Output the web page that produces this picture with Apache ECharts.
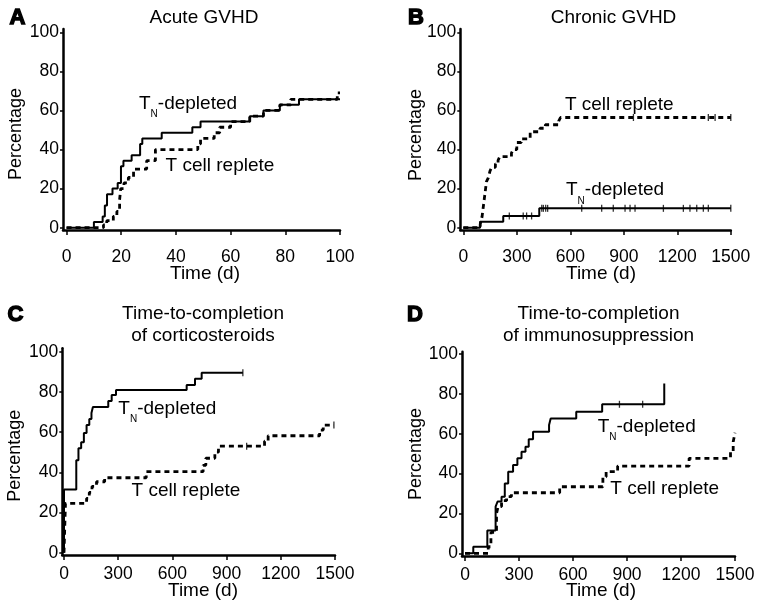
<!DOCTYPE html>
<html><head><meta charset="utf-8">
<script src="https://cdn.jsdelivr.net/npm/echarts@6/dist/echarts.min.js"></script>
<style>html,body{margin:0;padding:0;background:#fff}#c{width:762px;height:612px}</style>
</head><body><div id="c"></div>
<script>
const FONT = '"Liberation Sans", Arial, Helvetica, sans-serif';

// ---- Panel A: Acute GVHD (days 0-100) ----
const aDepT = [0, 10, 13.2, 14, 14.8, 16.8, 18.7, 19.9, 20.8, 23.8, 26.9, 27.7, 34.8, 46, 49, 67, 72, 78, 85, 100];
const aDepY = [0, 2.9, 5.7, 11.4, 17.1, 20, 22.9, 31.4, 34.3, 37.1, 42.9, 45.7, 48.6, 51.4, 54.3, 57.1, 60, 62.9, 65.7, 65.7];
const aRepT = [0, 13.5, 14.7, 17.1, 18.4, 19.4, 19.8, 21, 22.6, 24.5, 29.3, 32.5, 48, 49, 54, 56, 60, 67, 72, 78, 82, 99, 100];
const aRepY = [0, 1.4, 3.6, 5.8, 8.3, 14.3, 20, 22.9, 25.7, 30, 34.3, 40, 42.9, 45.7, 48.6, 51.4, 54.3, 57.1, 60, 62.9, 65.7, 69, 69];
const aDepCens = [];
const aRepCens = [];

// ---- Panel B: Chronic GVHD (days 0-1500) ----
const bDepT = [0, 94, 224, 426, 1500];
const bDepY = [0, 3.1, 6, 9.9, 9.9];
const bRepT = [0, 95, 100, 105, 110, 115, 120, 125, 130, 140, 150, 160, 180, 195, 205, 270, 280, 300, 325, 375, 430, 460, 535, 545, 1500];
const bRepY = [0, 1.8, 3.6, 5.5, 9.1, 12.7, 16.4, 20, 23.6, 25.5, 29.1, 30.9, 32.7, 34.5, 36.4, 38.2, 40, 43.6, 45.5, 49.1, 50.9, 52.7, 54.5, 56.4, 56.4];
const bDepCens = [258, 336, 355, 383, 440, 449, 462, 473, 664, 776, 841, 907, 935, 963, 1122, 1234, 1271, 1309, 1346, 1374, 1500];
const bRepCens = [954, 1374, 1412, 1500];

// ---- Panel C: completion of corticosteroids ----
const cDepT = [0, 0, 68, 80, 95, 110, 125, 140, 152, 160, 245, 264, 288, 679, 725, 762, 990];
const cDepY = [0, 31.5, 46, 52, 55, 59.5, 63.5, 66.5, 69.5, 72.5, 75.5, 78.5, 81, 83.5, 86.5, 89.5, 89.5];
const cRepT = [0, 8, 125, 140, 155, 180, 225, 455, 770, 785, 835, 855, 1110, 1130, 1415, 1435, 1494];
const cRepY = [0, 24.5, 27, 30, 33, 35.3, 37.3, 40.3, 43.5, 47, 50, 53, 55.5, 58.2, 61, 63.5, 63.5];
const cDepCens = [990];
const cRepCens = [1011, 1494];

// ---- Panel D: completion of immunosuppression ----
const dDepT = [0, 46, 124, 170, 181, 203, 221, 240, 267, 291, 314, 336, 354, 378, 467, 476, 618, 762, 1107, 1107];
const dDepY = [0, 3.3, 11.5, 23.4, 26, 28.4, 35, 41, 44.3, 47.7, 51, 53.5, 57.2, 61, 64.4, 67.7, 71, 74.8, 74.8, 85.3];
const dRepT = [0, 129, 144, 175, 184, 203, 231, 258, 526, 766, 784, 848, 1245, 1475, 1490, 1500];
const dRepY = [0, 3.3, 10.5, 20, 23.5, 26.4, 28.5, 30.4, 33.4, 38.4, 41, 43.8, 47.7, 51, 56, 60.5];
const dDepCens = [858, 987];
const dRepCens = [];

// ---- tick labels ----
const xTicksA = [0, 20, 40, 60, 80, 100];
const xTicksLong = [0, 300, 600, 900, 1200, 1500];
const yTicks = [0, 20, 40, 60, 80, 100];

const titles = [['Acute GVHD'], ['Chronic GVHD'], ['Time-to-completion', 'of corticosteroids'], ['Time-to-completion', 'of immunosuppression']];
const letters = ['A', 'B', 'C', 'D'];

const panels = [
  {dep: [aDepT, aDepY], rep: [aRepT, aRepY], depC: aDepCens, repC: aRepCens, xt: xTicksA, lm: 18,
   grid: {left: 63, top: 29, width: 277, height: 201}, x: [-1.3, 100], y: [-1.18, 101.7]},
  {dep: [bDepT, bDepY], rep: [bRepT, bRepY], depC: bDepCens, repC: bRepCens, xt: xTicksLong, lm: 18,
   grid: {left: 460.3, top: 29, width: 270.5, height: 201}, x: [-16.8, 1500], y: [-1.18, 101.7]},
  {dep: [cDepT, cDepY], rep: [cRepT, cRepY], depC: cDepCens, repC: cRepCens, xt: xTicksLong, lm: 10,
   grid: {left: 62.3, top: 348.3, width: 272.7, height: 206.7}, x: [-9.4, 1500], y: [-1.14, 101.7]},
  {dep: [dDepT, dDepY], rep: [dRepT, dRepY], depC: dDepCens, repC: dRepCens, xt: xTicksLong, lm: 10,
   grid: {left: 462, top: 351.7, width: 273, height: 204.3}, x: [-16.7, 1500], y: [-1.35, 101.2]}
];

function zip(t, y) { return t.map((v, i) => [v, y[i]]); }
function stepAt(t, y, x) { let v = y[0]; for (let i = 0; i < t.length; i++) { if (t[i] <= x) v = y[i]; } return v; }

const grids = [], xAxes = [], yAxes = [], series = [];
panels.forEach((p, i) => {
  grids.push(Object.assign({containLabel: false}, p.grid));
  xAxes.push({
    type: 'value', gridIndex: i, min: p.x[0], max: p.x[1],
    axisLine: {show: true, onZero: false, lineStyle: {color: '#000', width: 2.5}},
    axisTick: {show: true, customValues: p.xt, length: 5, lineStyle: {color: '#000', width: 1.5}},
    axisLabel: {customValues: p.xt, margin: p.lm, fontSize: 17.5, color: '#000', fontFamily: FONT,
      formatter: v => String(v)},
    splitLine: {show: false}
  });
  yAxes.push({
    type: 'value', gridIndex: i, min: p.y[0], max: p.y[1],
    axisLine: {show: true, onZero: false, lineStyle: {color: '#000', width: 2.5}},
    axisTick: {show: true, customValues: yTicks, length: 3, lineStyle: {color: '#000', width: 1.5}},
    axisLabel: {customValues: yTicks, margin: 4, fontSize: 17.5, color: '#000', fontFamily: FONT,
      formatter: v => String(v)},
    splitLine: {show: false}
  });
  series.push({
    type: 'line', xAxisIndex: i, yAxisIndex: i, step: 'end', showSymbol: false, silent: true,
    data: zip(p.dep[0], p.dep[1]), lineStyle: {color: '#000', width: 2}, z: 3
  });
  series.push({
    type: 'line', xAxisIndex: i, yAxisIndex: i, step: 'end', showSymbol: false, silent: true,
    data: zip(p.rep[0], p.rep[1]), lineStyle: {color: '#000', width: 2.8, type: [5, 4]}, z: 3
  });
  const cens = p.depC.map(x => [x, stepAt(p.dep[0], p.dep[1], x)])
    .concat(p.repC.map(x => [x, stepAt(p.rep[0], p.rep[1], x)]));
  series.push({
    type: 'scatter', xAxisIndex: i, yAxisIndex: i, silent: true, data: cens,
    symbol: 'rect', symbolSize: [1.3, 7], itemStyle: {color: '#000'}, z: 4
  });
});

const graphics = [];
function txt(x, y, s, size, extra) {
  graphics.push(Object.assign({type: 'text', x: x, y: y, style: Object.assign({
    text: s, font: size + 'px ' + FONT, fill: '#000', align: 'center', verticalAlign: 'middle'
  }, extra && extra.style || {})}, extra && extra.el || {}));
}
// panel letters
[[17.5, 18, 'A'], [416, 18, 'B'], [15.5, 315, 'C'], [415, 315, 'D']].forEach(l => {
  graphics.push({type: 'text', x: l[0], y: l[1], style: {text: l[2], font: 'bold 22px ' + FONT, fill: '#000',
    stroke: '#000', lineWidth: 1.4, align: 'center', verticalAlign: 'middle'}});
});
// titles
txt(204, 18, titles[0][0], 19);
txt(613.5, 18, titles[1][0], 19);
txt(203, 314, titles[2][0], 19); txt(203, 336, titles[2][1], 19);
txt(598.5, 314, titles[3][0], 19); txt(598.5, 336, titles[3][1], 19);
// axis names
[[205, 274], [601, 274], [203, 591], [601, 591]].forEach(p => txt(p[0], p[1], 'Time (d)', 19));
[[16, 134], [416, 135], [15.5, 455.7], [416, 454]].forEach(p => txt(p[0], p[1], 'Percentage', 18, {el: {rotation: Math.PI / 2}}));
// annotations
[[220, 165.8], [619.3, 105], [186, 491], [664.7, 489]].forEach(p => txt(p[0], p[1], 'T cell replete', 19));
[[139, 96.7], [566, 183.3], [118.3, 401.7], [597.7, 420]].forEach(p => {
  graphics.push({type: 'text', x: p[0], y: p[1] - 2.8, style: {
    text: '{a|T}{s|N}{a|-depleted}', fill: '#000', align: 'left', verticalAlign: 'top',
    rich: {
      a: {fontSize: 19, lineHeight: 19, fontFamily: FONT, verticalAlign: 'top', fill: '#000'},
      s: {fontSize: 10, lineHeight: 10, fontFamily: FONT, verticalAlign: 'top', padding: [15.5, 0, 0, 0], fill: '#000'}
    }
  }});
});

const chart = echarts.init(document.getElementById('c'), null, {renderer: 'canvas'});
chart.setOption({
  animation: false, backgroundColor: '#fff',
  grid: grids, xAxis: xAxes, yAxis: yAxes, series: series, graphic: graphics
});
</script>
</body></html>
